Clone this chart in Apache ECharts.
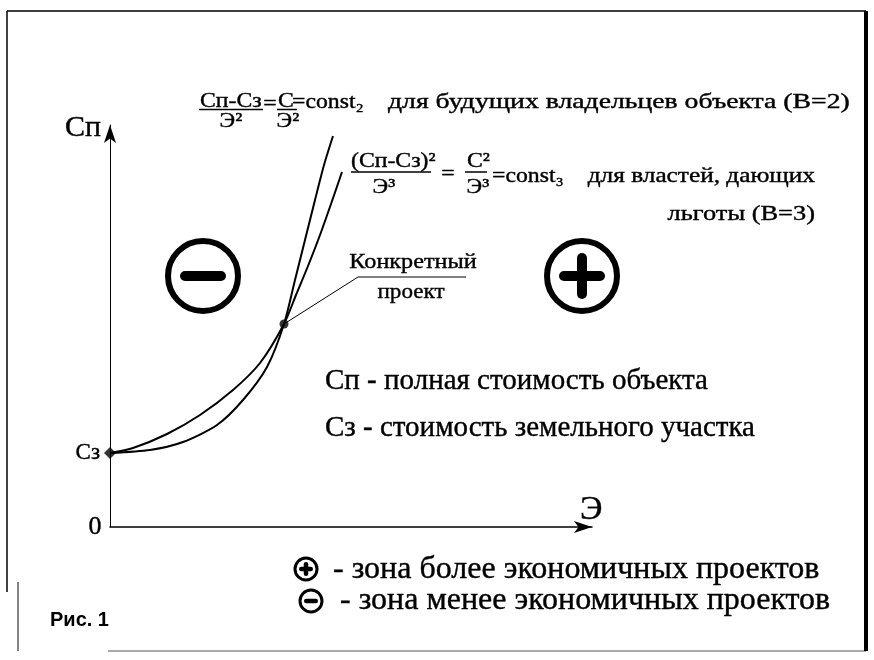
<!DOCTYPE html>
<html>
<head>
<meta charset="utf-8">
<script src="https://cdn.jsdelivr.net/npm/echarts@6/dist/echarts.min.js"></script>
<style>
html, body { margin: 0; padding: 0; background: #fff; }
#chart { width: 874px; height: 660px; }
</style>
</head>
<body>
<div id="chart"></div>
<script>
// curve for future owners (B=2)
var curveB2X = [0, 40, 73, 107, 133, 157, 174, 185, 195, 205, 214, 223];
var curveB2Y = [74, 77, 85, 102, 127, 160, 203, 247, 287, 327, 362, 391];
// curve for authorities giving benefits (B=3)
var curveB3X = [0, 23, 57, 90, 123, 150, 174, 186, 198, 210, 221, 232];
var curveB3Y = [74, 79, 93, 112, 137, 164, 203, 232, 261, 292, 323, 355];
// land cost point (Сз) and the concrete project
var landPoint = [0, 74];
var projectPoint = [174, 203];

var chart = echarts.init(document.getElementById('chart'));
var SERIF = '"Liberation Serif", "Times New Roman", serif';

function pairs(xs, ys) {
    var out = [];
    for (var i = 0; i < xs.length; i++) {
        out.push([xs[i], ys[i]]);
    }
    return out;
}

function txt(x, y, text, size, align, sx) {
    return {
        type: 'text', x: x, y: y, scaleX: sx || 1, silent: true,
        style: {
            text: text, fill: '#000', font: size + 'px ' + SERIF,
            stroke: '#000', lineWidth: 0.4,
            textAlign: align || 'left', textVerticalAlign: 'middle'
        }
    };
}

function seg(x1, y1, x2, y2, w, color) {
    return {
        type: 'line', silent: true,
        shape: { x1: x1, y1: y1, x2: x2, y2: y2 },
        style: { stroke: color || '#000', lineWidth: w || 1.5 }
    };
}

function zone(cx, cy, r, lw, bar, thick, plus) {
    var items = [{
        type: 'circle', shape: { cx: cx, cy: cy, r: r },
        style: { fill: 'none', stroke: '#000', lineWidth: lw }
    }, {
        type: 'rect', shape: { x: cx - bar / 2, y: cy - thick / 2, width: bar, height: thick, r: thick / 2 },
        style: { fill: '#000' }
    }];
    if (plus) {
        items.push({
            type: 'rect', shape: { x: cx - thick / 2, y: cy - bar / 2, width: thick, height: bar, r: thick / 2 },
            style: { fill: '#000' }
        });
    }
    return items;
}

var graphics = [
    // frame
    seg(7, 11, 866, 11, 1.5),
    seg(7, 11, 7, 592, 1.5),
    seg(18, 582, 18, 651, 1.2, '#333'),
    seg(108, 651, 866, 651, 1, '#555'),
    seg(866, 11, 866, 651, 4),

    // axis labels
    txt(101, 128, 'Сп', 30, 'right'),
    txt(100, 453, 'Сз', 23, 'right'),
    txt(95, 527, '0', 26, 'center'),
    txt(580, 510, 'Э', 34, 'left'),

    // formula B=2
    txt(200, 101, 'Сп-Сз', 21, 'left', 1.13),
    seg(199, 109.5, 263, 109.5, 1.5),
    txt(231, 121, 'Э²', 21, 'center', 1.13),
    txt(270, 104, '=', 21, 'center', 1.13),
    txt(286, 101, 'С', 21, 'center', 1.13),
    seg(277, 109.5, 297, 109.5, 1.5),
    txt(288, 121, 'Э²', 21, 'center', 1.13),
    txt(292, 102, '=const₂', 21, 'left', 1.13),
    txt(388, 102, 'для будущих владельцев объекта (В=2)', 22, 'left', 1.26),

    // formula B=3
    txt(351, 161, '(Сп-Сз)²', 21, 'left', 1.13),
    seg(351, 172, 431, 172, 1.5),
    txt(384, 187, 'Э³', 21, 'center', 1.13),
    txt(448, 174, '=', 21, 'center', 1.13),
    txt(467, 161, 'С²', 21, 'left', 1.13),
    seg(465, 172, 487, 172, 1.5),
    txt(478, 187, 'Э³', 21, 'center', 1.13),
    txt(492, 176, '=const₃', 21, 'left', 1.13),
    txt(815, 176, 'для властей, дающих', 22, 'right', 1.15),
    txt(815, 214, 'льготы (В=3)', 22, 'right', 1.2),

    // concrete project label
    txt(413, 262, 'Конкретный', 22, 'center', 1.1),
    txt(411, 292, 'проект', 22, 'center', 1.05),
    seg(358, 277, 466, 277, 1),

    // notes
    txt(325, 381, 'Сп - полная стоимость объекта', 29, 'left'),
    txt(325, 428, 'Сз - стоимость земельного участка', 29, 'left'),
    txt(333, 570, '- зона более экономичных проектов', 32, 'left'),
    txt(340, 601, '- зона менее экономичных проектов', 32, 'left'),

    {
        type: 'text', x: 50, y: 620, silent: true,
        style: {
            text: 'Рис. 1', fill: '#000', font: 'bold 20px "Liberation Sans", Arial, sans-serif',
            textAlign: 'left', textVerticalAlign: 'middle'
        }
    }
];

graphics = graphics
    .concat(zone(203, 276, 35, 6, 46, 10, false))
    .concat(zone(582, 276, 35, 6, 46, 10, true))
    .concat(zone(306, 569, 11, 3, 14, 4.5, true))
    .concat(zone(311, 601, 11, 3, 14, 4.5, false));

var option = {
    animation: false,
    backgroundColor: '#fff',
    grid: { left: 110, right: 282, top: 125, bottom: 133 },
    xAxis: {
        type: 'value', min: 0, max: 482,
        axisLine: { show: true, symbol: ['none', 'arrow'], symbolSize: [9, 18], lineStyle: { color: '#000', width: 1.5 } },
        axisTick: { show: false }, axisLabel: { show: false }, splitLine: { show: false }
    },
    yAxis: {
        type: 'value', min: 0, max: 402,
        axisLine: { show: true, symbol: ['none', 'arrow'], symbolSize: [9, 18], lineStyle: { color: '#000', width: 1 } },
        axisTick: { show: false }, axisLabel: { show: false }, splitLine: { show: false }
    },
    series: [
        {
            name: 'B=2', type: 'line', smooth: 0.25, showSymbol: false,
            lineStyle: { color: '#000', width: 2 },
            data: pairs(curveB2X, curveB2Y)
        },
        {
            name: 'B=3', type: 'line', smooth: 0.25, showSymbol: false,
            lineStyle: { color: '#000', width: 2 },
            data: pairs(curveB3X, curveB3Y)
        },
        {
            name: 'Сз', type: 'scatter', symbol: 'diamond', symbolSize: 12,
            itemStyle: { color: '#000' }, data: [landPoint], z: 5
        },
        {
            name: 'Конкретный проект', type: 'scatter', symbol: 'circle', symbolSize: 9,
            itemStyle: { color: '#000' }, data: [projectPoint], z: 5
        }
    ],
    graphic: graphics
};

chart.setOption(option);

// leader line from the project point to the label
var p = chart.convertToPixel({ gridIndex: 0 }, projectPoint);
graphics.push({
    type: 'polyline', silent: true,
    shape: { points: [p, [358, 277]] },
    style: { stroke: '#000', lineWidth: 1, fill: 'none' }
});
chart.setOption({ graphic: graphics });
</script>
</body>
</html>
